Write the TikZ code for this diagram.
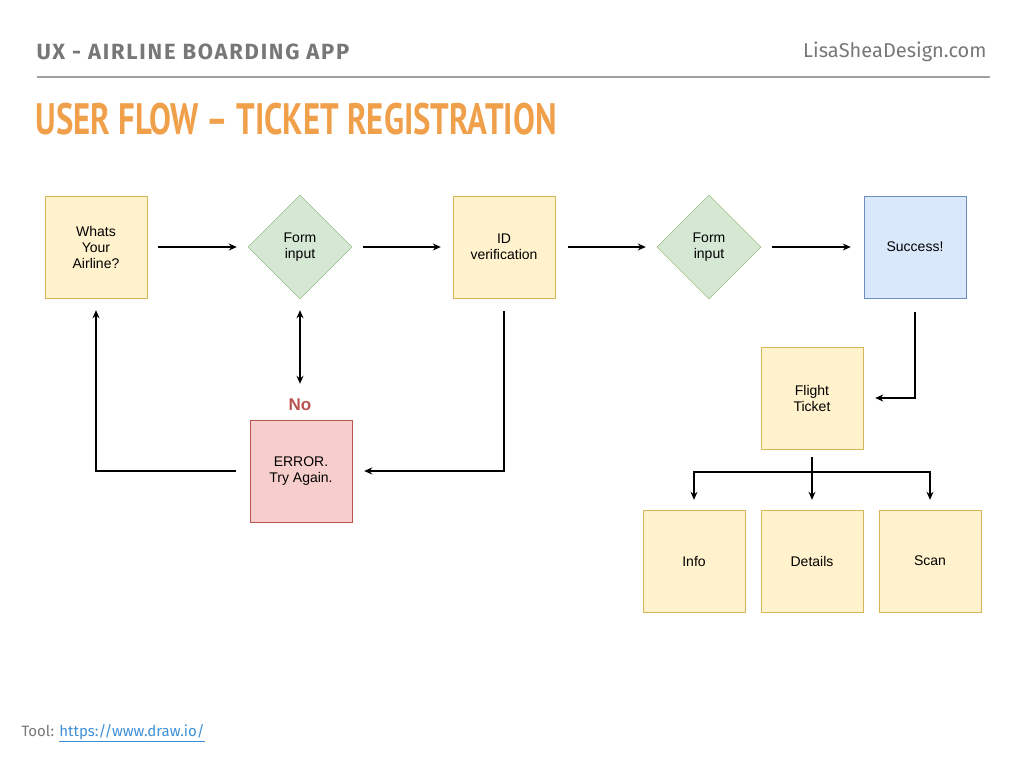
\documentclass[tikz,border=0pt]{standalone}
\usepackage{fontspec}
\setmainfont{Liberation Sans}
\newfontfamily\headfont{Fira Sans}
\newfontfamily\titlefont{PT Sans}
\usetikzlibrary{positioning,shapes.geometric,arrows.meta}
\definecolor{boxyellow}{HTML}{FFF2CC}
\definecolor{lineyellow}{HTML}{D6B656}
\definecolor{boxgreen}{HTML}{D5E8D4}
\definecolor{linegreen}{HTML}{82B366}
\definecolor{boxblue}{HTML}{DAE8FC}
\definecolor{lineblue}{HTML}{6C8EBF}
\definecolor{boxred}{HTML}{F8CECC}
\definecolor{linered}{HTML}{B85450}
\definecolor{titleorange}{HTML}{F0A04B}
\definecolor{headgray}{HTML}{777777}
\definecolor{linkblue}{HTML}{3D8FD6}
\tikzset{
  stage/.style={draw=lineyellow, fill=boxyellow, minimum size=102pt, align=center, font=\fontsize{14}{16}\selectfont},
  check/.style={diamond, aspect=1, draw=linegreen, fill=boxgreen, minimum size=104pt, inner sep=0pt, align=center, font=\fontsize{14}{16}\selectfont},
  flow/.style={-{Stealth[length=8pt,width=7pt]}, line width=1.4pt}
}
\begin{document}
\begin{tikzpicture}[x=1pt,y=-1pt]
    \useasboundingbox (0,0) rectangle (1024,768);
    % header
    \node[anchor=west, text=headgray, font=\headfont\fontsize{22}{24}\selectfont\addfontfeatures{LetterSpace=8}] (head) at (33,52) {\textbf{UX - AIRLINE BOARDING APP}};
    \node[anchor=east, text=headgray, font=\headfont\fontsize{20}{24}\selectfont] (site) at (990,52) {LisaSheaDesign.com};
    \draw[headgray!70, line width=1.5pt] (37,77) -- (990,77);
    \node[anchor=west, text=titleorange, font=\titlefont\bfseries\fontsize{44}{48}\selectfont] (title) at (32,119) {\scalebox{0.745}[1]{USER FLOW – TICKET REGISTRATION}};

    % top row
    \node[stage] (airline) at (96,247) {Whats\\Your\\Airline?};
    \node[check] (form1) at (300,247) {Form\\input};
    \node[stage] (idver) at (504,247) {ID\\verification};
    \node[check] (form2) at (709,247) {Form\\input};
    \node[stage, draw=lineblue, fill=boxblue] (success) at (915,247) {Success!};

    % error
    \node[stage, draw=linered, fill=boxred] (error) at (301,471) {ERROR.\\Try Again.};
    \node[text=linered, font=\bfseries\fontsize{17}{20}\selectfont] (no) at (300,405) {No};

    % ticket
    \node[stage] (ticket) at (812,398) {Flight\\Ticket};
    \node[stage] (info) at (694,561) {Info};
    \node[stage] (details) at (812,561) {Details};
    \node[stage] (scan) at (930,561) {Scan};

    % arrows
    \draw[flow, shorten <=11pt, shorten >=11pt] (airline) -- (form1);
    \draw[flow, shorten <=11pt, shorten >=12pt] (form1) -- (idver);
    \draw[flow, shorten <=13pt, shorten >=11pt] (idver) -- (form2);
    \draw[flow, shorten <=11pt, shorten >=13pt] (form2) -- (success);
    \draw[flow, {Stealth[length=8pt,width=7pt]}-{Stealth[length=8pt,width=7pt]}, shorten <=11pt, shorten >=36pt] (form1) -- (error.north -| form1);
    \draw[flow, shorten <=14pt, shorten >=12pt] (error.west) -| (airline.south);
    \draw[flow, shorten <=13pt, shorten >=12pt] (idver.south) |- (error.east);
    \draw[flow, shorten <=14pt, shorten >=12pt] (success.south) |- (ticket.east);

    \coordinate (fork) at (812,472);
    \draw[line width=1.4pt, shorten <=8pt] (ticket.south) -- (fork);
    \draw[flow, shorten >=10pt] (fork) -| (info.north);
    \draw[flow, shorten >=10pt] (fork) -- (details.north);
    \draw[flow, shorten >=10pt] (fork) -| (scan.north);

    % footer
    \node[anchor=west, text=headgray, font=\headfont\fontsize{15}{18}\selectfont] (tool) at (18,733) {Tool: \textcolor{linkblue}{\underline{https://www.draw.io/}}};
\end{tikzpicture}
\end{document}
